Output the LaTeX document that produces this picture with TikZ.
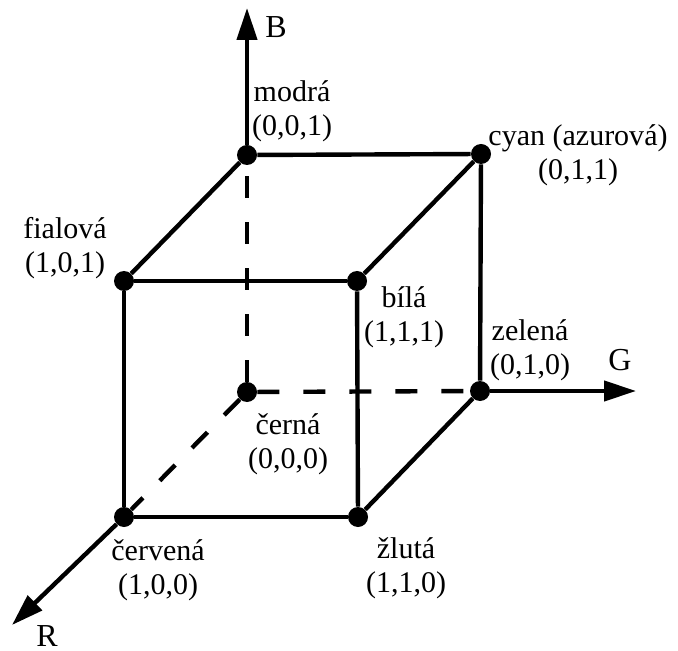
\documentclass[tikz,border=0pt]{standalone}
\usepackage{fontspec}
\setmainfont{Liberation Serif}
\usetikzlibrary{positioning,
        arrows.meta}

\tikzset{
        dot/.style={circle,fill=black,inner sep=0pt,minimum size=10pt},
        edge/.style={line width=2.2pt},
        hidden/.style={line width=2.2pt,dash pattern=on 11pt off 12pt},
        axis/.style={line width=2.2pt,-{Triangle[length=16pt,width=10pt]}},
        lbl/.style={align=center,inner sep=0pt,font=\fontsize{15}{17}\selectfont},
        axlbl/.style={inner sep=0pt,font=\fontsize{16}{18}\selectfont}
}

\begin{document}
\begin{tikzpicture}[x=0.5pt,y=-0.5pt]
        \useasboundingbox (0,0) rectangle (678,651);

        % vertices of the cube
        \node [dot] (k) at (247,392) {};
        \node [dot] (b) at (247,155) {};
        \node [dot] (c) at (481,154) {};
        \node [dot] (g) at (480,391) {};
        \node [dot] (m) at (124,281) {};
        \node [dot] (w) at (357,281) {};
        \node [dot] (r) at (124,517) {};
        \node [dot] (y) at (358,517) {};

        % axis ends
        \coordinate (Bend) at (247,8);
        \coordinate (Gend) at (636,391);
        \coordinate (Rend) at (12,625);

        % hidden edges
        \draw [hidden] (k) -- (b);
        \draw [hidden] (k) -- (g);
        \draw [hidden] (k) -- (r);

        % visible edges
        \draw [edge] (b) -- (c);
        \draw [edge] (b) -- (m);
        \draw [edge] (m) -- (w);
        \draw [edge] (c) -- (w);
        \draw [edge] (c) -- (g);
        \draw [edge] (m) -- (r);
        \draw [edge] (w) -- (y);
        \draw [edge] (r) -- (y);
        \draw [edge] (y) -- (g);

        % axes
        \draw [axis] (b) -- (Bend);
        \draw [axis] (g) -- (Gend);
        \draw [axis] (r) -- (Rend);

        \node [axlbl] (lB) at (276,27) {B};
        \node [axlbl] (lG) at (620,360) {G};
        \node [axlbl] (lR) at (47,636) {R};

        % labels
        \node [lbl] (lb) at (292,111) {modrá\\(0,0,1)};
        \node [lbl] (lm) at (65,248) {fialová\\(1,0,1)};
        \node [lbl] (lc) at (578,155) {cyan (azurová)\\(0,1,1)};
        \node [lbl] (lw) at (404,317) {bílá\\(1,1,1)};
        \node [lbl] (lg) at (530,350) {zelená\\(0,1,0)};
        \node [lbl] (lk) at (288,444) {černá\\(0,0,0)};
        \node [lbl] (lr) at (158,570) {červená\\(1,0,0)};
        \node [lbl] (ly) at (406,568) {žlutá\\(1,1,0)};
\end{tikzpicture}
\end{document}
